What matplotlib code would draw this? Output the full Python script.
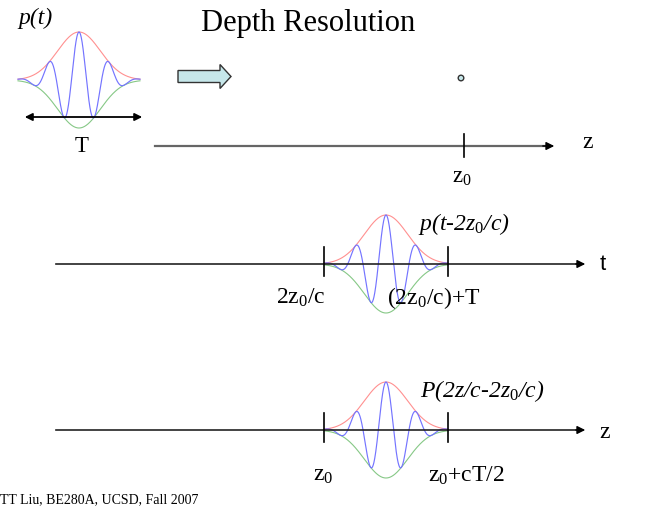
import numpy as np
import matplotlib
matplotlib.use("Agg")
import matplotlib.pyplot as plt
from matplotlib.patches import FancyArrow, Circle

plt.rcParams['mathtext.fontset'] = 'custom'
plt.rcParams['mathtext.rm'] = 'Liberation Serif'
plt.rcParams['mathtext.it'] = 'Liberation Serif:italic'
SERIF = 'Liberation Serif'

# pulse shape parameters (normalized to half-width)
pulse_sigma = 0.35
pulse_cycles = 4.05

# pulses: (center x, baseline y, amplitude, half-width)
pulses = [(79, 80, 48, 61), (386, 264, 49, 62), (386, 430, 48, 62)]

# axes: (x start, x end, y)
axes_lines = [(155, 557, 146, 'k'), (56, 588, 264, 'k'), (56, 588, 430, 'k')]
ticks = [(464, 134, 157), (324, 247, 276), (448, 247, 276), (324, 413, 442), (448, 413, 442)]

fig = plt.figure(figsize=(6.64, 5.15), dpi=100)
ax = fig.add_axes([0, 0, 1, 1])
ax.set_xlim(0, 664)
ax.set_ylim(515, 0)
ax.axis('off')

tau = np.linspace(-1, 1, 600)
env = np.exp(-tau**2 / (2 * pulse_sigma**2))
car = np.cos(2 * np.pi * pulse_cycles / 2 * tau)
for cx, by, A, hw in pulses:
    x = cx + tau * hw
    ax.plot(x, by - A * env, color='#ff9090', lw=0.8)
    ax.plot(x, by + A * env, color='#86c886', lw=0.8)
    ax.plot(x, by - A * env * car, color='#7474ff', lw=0.85)

# axis lines
ax.plot([155, 550], [146, 146], color='#666666', lw=1.6)
ax.annotate('', xy=(557, 146), xytext=(540, 146),
            arrowprops=dict(arrowstyle='-|>', color='k', lw=1.0, mutation_scale=12))
for x0, x1, y, c in axes_lines[1:]:
    ax.plot([x0, x1 - 6], [y, y], color='#222222', lw=1.2)
    ax.annotate('', xy=(x1, y), xytext=(x1 - 15, y),
                arrowprops=dict(arrowstyle='-|>', color='k', lw=1.0, mutation_scale=12))
for x, y0, y1 in ticks:
    ax.plot([x, x], [y0, y1], color='k', lw=1.2)

# T double arrow
ax.annotate('', xy=(22, 117), xytext=(145, 117),
            arrowprops=dict(arrowstyle='<|-|>', color='k', lw=1.3, mutation_scale=11))

# block arrow
ax.add_patch(FancyArrow(178, 76.5, 53, 0, width=12, head_width=24, head_length=11,
                        length_includes_head=True, facecolor='#c6e7ea', edgecolor='#333333', lw=1.0))
ax.add_patch(Circle((461, 78), 2.8, facecolor='#c6e7ea', edgecolor='#333333', lw=1.0))

# texts
ax.text(308, 24, 'Depth Resolution', family=SERIF, fontsize=22, ha='center', va='center')
ax.text(36, 18, 'p(t)', family=SERIF, style='italic', fontsize=17, ha='center', va='center')
ax.text(82, 146, 'T', family=SERIF, fontsize=16.5, ha='center', va='center')
ax.text(588, 143, 'z', family=SERIF, fontsize=17, ha='center', va='center')
ax.text(462, 178, 'z$_0$', family=SERIF, fontsize=16.5, ha='center', va='center')
ax.text(603, 264, 't', family='Liberation Sans', fontsize=16, ha='center', va='center')
ax.text(605, 432, 'z', family=SERIF, fontsize=17, ha='center', va='center')
ax.text(418, 224, 'p(t-2z$_{\\mathit{0}}$/c)', family=SERIF, style='italic', fontsize=17, ha='left', va='center')
ax.text(276, 298, '2z$_0$/c', family=SERIF, fontsize=17, ha='left', va='center')
ax.text(387, 298, '(2z$_0$/c)+T', family=SERIF, fontsize=17, ha='left', va='center')
ax.text(420, 391, 'P(2z/c-2z$_{\\mathit{0}}$/c)', family=SERIF, style='italic', fontsize=17, ha='left', va='center')
ax.text(323, 476, 'z$_0$', family=SERIF, fontsize=17, ha='center', va='center')
ax.text(428, 476, 'z$_0$+cT/2', family=SERIF, fontsize=17, ha='left', va='center')
ax.text(0, 500, 'TT Liu, BE280A, UCSD, Fall 2007', family=SERIF, fontsize=10, ha='left', va='center')

fig.savefig('out.png', dpi=100)
